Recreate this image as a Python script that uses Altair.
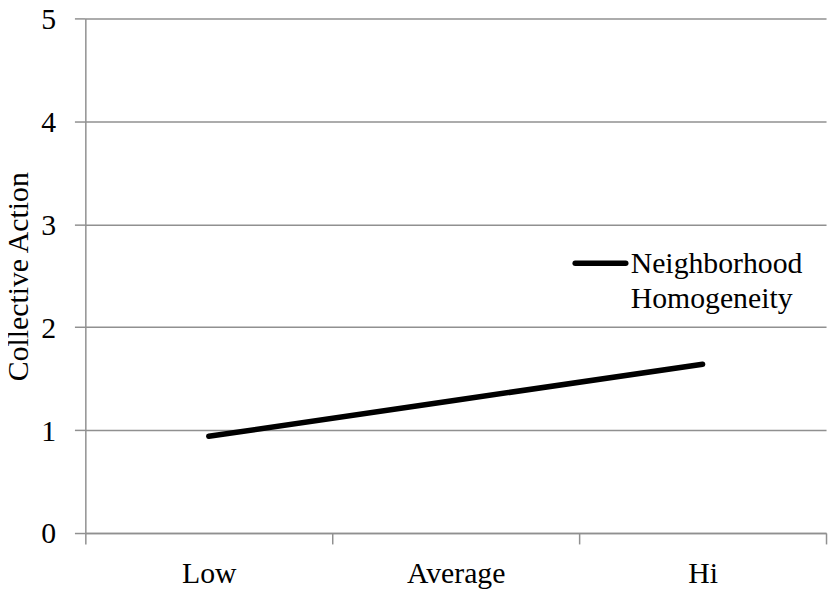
import altair as alt
import pandas as pd

categories = ["Low", "Average", "Hi"]
series_name = "Neighborhood Homogeneity"
values = [0.94, 1.29, 1.64]
y_ticks = [0, 1, 2, 3, 4, 5]

df = pd.DataFrame({"idx": list(range(len(categories))), "cat": categories, "val": values})

label_expr = " : ".join(
    [f"datum.value === {i} ? '{c}'" for i, c in enumerate(categories)]
) + " : ''"
x_vals = []
for i in range(len(categories)):
    x_vals += [i - 0.5, i]
x_vals.append(len(categories) - 0.5)

FONT = "Liberation Serif"
GREY = "#909090"
FS = 30

line = alt.Chart(df).mark_line(color="black", strokeWidth=5.5, strokeCap="round").encode(
    x=alt.X(
        "idx:Q",
        scale=alt.Scale(domain=[-0.5, len(categories) - 0.5], nice=False, zero=False),
        axis=alt.Axis(
            values=x_vals,
            labelExpr=label_expr,
            title=None,
            grid=False,
            domainColor=GREY,
            domainWidth=1.5,
            tickColor=GREY,
            tickWidth=1.5,
            tickSize=11,
            tickOpacity={"condition": {"test": "datum.value % 1 === 0", "value": 0}, "value": 1},
            labelFont=FONT,
            labelFontSize=FS,
            labelColor="black",
            labelPadding=15,
            labelOverlap=False,
            labelFlush=False,
        ),
    ),
    y=alt.Y(
        "val:Q",
        scale=alt.Scale(domain=[0, 5], nice=False),
        axis=alt.Axis(
            values=y_ticks,
            title="Collective Action",
            titleFont=FONT,
            titleFontSize=FS,
            titleFontWeight="normal",
            titleColor="black",
            titleX=-67,
            titleY=260,
            titleAngle=270,
            titleBaseline="middle",
            grid=True,
            gridColor=GREY,
            gridWidth=1.5,
            domainColor=GREY,
            domainWidth=1.5,
            tickColor=GREY,
            tickWidth=1.5,
            tickSize=11,
            labelFont=FONT,
            labelFontSize=FS,
            labelColor="black",
            labelPadding=19,
            labelOffset=1,
        ),
    ),
)

leg_df = pd.DataFrame({"name": [series_name]})
leg_rule = alt.Chart(leg_df).mark_rule(color="black", strokeWidth=5.5, strokeCap="round").encode(
    x=alt.value(494), x2=alt.value(545), y=alt.value(247)
)
leg_text = alt.Chart(leg_df).mark_text(
    font=FONT, fontSize=FS, align="left", baseline="alphabetic", lineBreak=" ", lineHeight=35, color="black"
).encode(x=alt.value(550), y=alt.value(257), text="name:N")

chart = (
    alt.layer(line, leg_rule, leg_text)
    .properties(
        width=747,
        height=519,
        autosize=alt.AutoSizeParams(type="none"),
        padding={"left": 78, "top": 8, "right": 4, "bottom": 60},
    )
    .configure_view(stroke=None)
)

chart.save("out.html", embed_options={"renderer": "svg", "actions": False})
